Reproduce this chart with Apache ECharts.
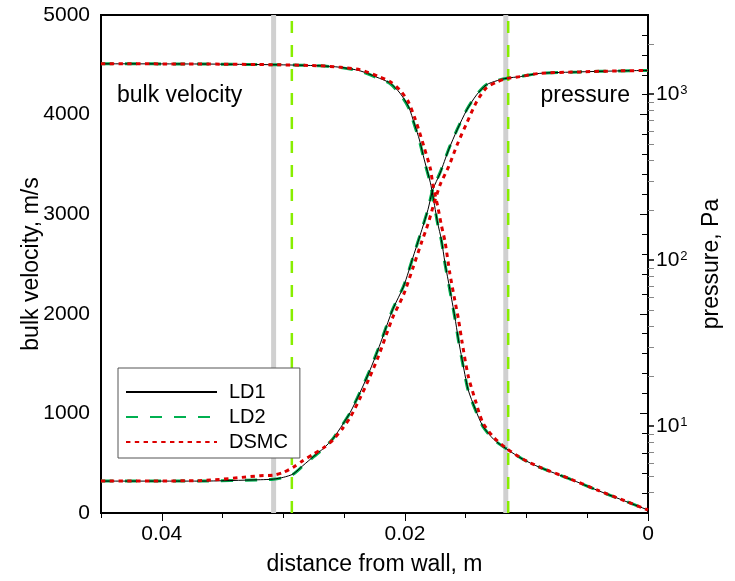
<!DOCTYPE html>
<html>
<head>
<meta charset="utf-8">
<script src="https://cdn.jsdelivr.net/npm/echarts@6/dist/echarts.min.js"></script>
<style>
  html, body { margin: 0; padding: 0; background: #fff; }
  #chart { width: 735px; height: 581px; }
</style>
</head>
<body>
<div id="chart"></div>
<script>
// ---- data ----
const velDist = [0.045, 0.0369, 0.0303, 0.0270, 0.0253, 0.0237, 0.0221, 0.0212, 0.0204, 0.0197,
                 0.0192, 0.0188, 0.0184, 0.0179, 0.0177, 0.0173, 0.0170, 0.0167, 0.0163, 0.0159,
                 0.0156, 0.0153, 0.0148, 0.0142, 0.0136, 0.0127, 0.0116, 0.0103, 0.0089, 0.0064,
                 0.0040, 0.0019, 0];
const velLD1 = [4510, 4508, 4500, 4490, 4475, 4440, 4365, 4315, 4215, 4080,
                3900, 3745, 3545, 3315, 3185, 2910, 2745, 2510, 2245, 1975,
                1745, 1545, 1240, 1040, 875, 740, 640, 540, 458, 340,
                220, 120, 30];
const velLD2 = [4510, 4508, 4500, 4490, 4472, 4438, 4360, 4310, 4205, 4070,
                3890, 3735, 3535, 3305, 3175, 2900, 2735, 2500, 2235, 1965,
                1735, 1535, 1232, 1035, 872, 738, 640, 540, 458, 340,
                220, 120, 30];
const velDSMC = [4510, 4508, 4500, 4490, 4475, 4450, 4380, 4330, 4245, 4125,
                 3970, 3825, 3665, 3455, 3300, 3080, 2890, 2725, 2405, 2140,
                 1950, 1720, 1380, 1130, 910, 760, 645, 542, 460, 342,
                 222, 122, 30];

const presDist = [0.045, 0.0369, 0.0319, 0.0308, 0.0300, 0.0292, 0.0284, 0.0275, 0.0267, 0.0259,
                  0.0251, 0.0245, 0.0237, 0.0229, 0.0222, 0.0218, 0.0210, 0.0201, 0.0193, 0.0186,
                  0.0181, 0.0177, 0.0171, 0.0164, 0.0157, 0.0149, 0.0141, 0.0133, 0.0124, 0.0116,
                  0.0105, 0.0089, 0.0056, 0.0023, 0];
const presLD1 = [4.67, 4.67, 4.76, 4.80, 4.92, 5.15, 5.78, 6.58, 7.35, 8.44,
                 10.3, 12.1, 15.9, 21.5, 29.0, 34.9, 50.5, 69.8, 106, 153,
                 202, 266, 335, 463, 610, 806, 991, 1139, 1208, 1249,
                 1277, 1335, 1363, 1382, 1391];
const presLD2 = [4.67, 4.67, 4.75, 4.79, 4.90, 5.13, 5.75, 6.55, 7.33, 8.45,
                 10.3, 12.1, 16.0, 21.6, 29.2, 35.1, 50.8, 70.2, 106, 154,
                 203, 268, 338, 466, 613, 810, 994, 1141, 1209, 1249,
                 1277, 1335, 1363, 1382, 1391];
const presDSMC = [4.67, 4.70, 5.03, 5.07, 5.27, 5.65, 6.2, 6.8, 7.4, 8.3,
                  9.75, 11.3, 14.7, 19.7, 26.1, 31.3, 45.2, 62.2, 91.6, 130,
                  165, 208, 285, 366, 496, 673, 900, 1092, 1187, 1245,
                  1277, 1335, 1363, 1382, 1391];

const grayLines = [0.0308, 0.0117];
const greenLines = [0.0293, 0.0115];

const xMajorTicks = [0, 0.02, 0.04];
const xMinorTicks = [0.005, 0.01, 0.015, 0.025, 0.03, 0.035, 0.045];
const pMajorTicks = [10, 100, 1000];
const pMinorTicks = [4, 5, 6, 7, 8, 9, 20, 30, 40, 50, 60, 70, 80, 90,
                     200, 300, 400, 500, 600, 700, 800, 900, 2000];

const seriesNames = ['LD1', 'LD2', 'DSMC'];
// ---- end data ----

const FONT = 'Arial, "Liberation Sans", sans-serif';
const pair = (xs, ys) => xs.map((x, i) => [x, ys[i]]);

const styles = {
  LD1: { color: '#000000', width: 1, type: 'solid', z: 4 },
  LD2: { color: '#00b050', width: 3, type: [12, 12], z: 3 },
  DSMC: { color: '#dd0000', width: 3, type: [4.4, 4.4], z: 5 }
};

function mkSeries(name, data, yIdx) {
  const s = styles[name];
  return {
    name: name, type: 'line', xAxisIndex: 0, yAxisIndex: yIdx,
    data: data, showSymbol: false, symbol: 'none', smooth: 0.25,
    lineStyle: { color: s.color, width: s.width, type: s.type },
    itemStyle: { color: s.color },
    z: s.z, silent: true
  };
}

function guide(v, color, width, type, z) {
  return {
    name: 'guide', type: 'line', xAxisIndex: 0, yAxisIndex: 0,
    data: [[v, 0], [v, 5000]], showSymbol: false, symbol: 'none',
    lineStyle: { color: color, width: width, type: type },
    z: z, silent: true
  };
}

const chart = echarts.init(document.getElementById('chart'), null, { renderer: 'canvas' });

const option = {
  animation: false,
  backgroundColor: '#ffffff',
  textStyle: { fontFamily: FONT },
  grid: { left: 101, right: 87, top: 15, bottom: 67, show: true, borderColor: '#000', borderWidth: 2, backgroundColor: 'transparent' },
  legend: {
    data: seriesNames, orient: 'vertical', left: 118, top: 368,
    itemWidth: 91, itemHeight: 14, itemGap: 5,
    padding: [14, 12, 6, 7],
    borderColor: '#555', borderWidth: 1, backgroundColor: '#fff',
    itemStyle: { opacity: 0 },
    textStyle: { fontSize: 20, color: '#000', fontFamily: FONT, lineHeight: 20, padding: [0, 0, 0, 7] },
    selectedMode: false
  },
  xAxis: [
    {
      type: 'value', min: 0, max: 0.045, inverse: true, position: 'bottom',
      name: 'distance from wall, m', nameLocation: 'middle', nameGap: 40, nameMoveOverlap: false,
      nameTextStyle: { fontSize: 23, color: '#000', fontFamily: FONT },
      axisLine: { show: true, lineStyle: { color: '#000', width: 2 } },
      axisTick: { show: true, customValues: xMajorTicks, length: 8, lineStyle: { color: '#000', width: 1 } },
      axisLabel: { show: true, customValues: xMajorTicks, fontSize: 21, color: '#000', margin: 11, fontFamily: FONT },
      splitLine: { show: false }
    },
    {
      type: 'value', min: 0, max: 0.045, inverse: true, position: 'bottom',
      axisLine: { show: false },
      axisTick: { show: true, customValues: xMinorTicks, length: 5, lineStyle: { color: '#000', width: 1 } },
      axisLabel: { show: false },
      splitLine: { show: false }
    }
  ],
  yAxis: [
    {
      type: 'value', min: 0, max: 5000, interval: 1000, position: 'left',
      name: 'bulk velocity, m/s', nameLocation: 'middle', nameGap: 58, nameRotate: 90, nameMoveOverlap: false,
      nameTextStyle: { fontSize: 23, color: '#000', fontFamily: FONT },
      axisLine: { show: true, lineStyle: { color: '#000', width: 2 } },
      axisTick: { show: true, length: 8, lineStyle: { color: '#000', width: 1 } },
      minorTick: { show: true, splitNumber: 5, length: 6, lineStyle: { color: '#000', width: 1 } },
      axisLabel: { fontSize: 21, color: '#000', margin: 11, fontFamily: FONT, formatter: v => String(v) },
      splitLine: { show: false }, minorSplitLine: { show: false }
    },
    {
      type: 'log', logBase: 10, min: 3, max: 3000, position: 'right',
      name: 'pressure, Pa', nameLocation: 'middle', nameGap: 52, nameRotate: 90, nameMoveOverlap: false,
      nameTextStyle: { fontSize: 23, color: '#000', fontFamily: FONT },
      axisLine: { show: true, lineStyle: { color: '#000', width: 2 } },
      axisTick: { show: true, customValues: pMajorTicks, length: 6, lineStyle: { color: '#000', width: 1.5 } },
      axisLabel: {
        show: true, customValues: pMajorTicks, margin: 8,
        formatter: v => '{b|10}{s|' + Math.round(Math.log10(v)) + '}',
        rich: {
          b: { fontSize: 21, color: '#000', fontFamily: FONT },
          s: { fontSize: 13, color: '#000', fontFamily: FONT, verticalAlign: 'top', padding: [0, 0, 8, 1] }
        }
      },
      splitLine: { show: false }
    },
    {
      type: 'log', logBase: 10, min: 3, max: 3000, position: 'right',
      axisLine: { show: false },
      axisTick: { show: true, customValues: pMinorTicks, length: 6, lineStyle: { color: '#888', width: 1 } },
      axisLabel: { show: false },
      splitLine: { show: false }
    }
  ],
  graphic: [
    { type: 'text', left: 117, top: 84, style: { text: 'bulk velocity', font: '23px ' + FONT, fill: '#000' }, z: 10 },
    { type: 'text', right: 105, top: 84, style: { text: 'pressure', font: '23px ' + FONT, fill: '#000' }, z: 10 }
  ],
  series: [
    ...grayLines.map(v => guide(v, '#d0d0d0', 5, 'solid', 1)),
    ...greenLines.map(v => guide(v, '#88ee00', 2.5, [12, 12], 2)),
    mkSeries('LD2', pair(velDist, velLD2), 0),
    mkSeries('LD1', pair(velDist, velLD1), 0),
    mkSeries('DSMC', pair(velDist, velDSMC), 0),
    mkSeries('LD2', pair(presDist, presLD2), 1),
    mkSeries('LD1', pair(presDist, presLD1), 1),
    mkSeries('DSMC', pair(presDist, presDSMC), 1)
  ]
};
chart.setOption(option);
</script>
</body>
</html>
